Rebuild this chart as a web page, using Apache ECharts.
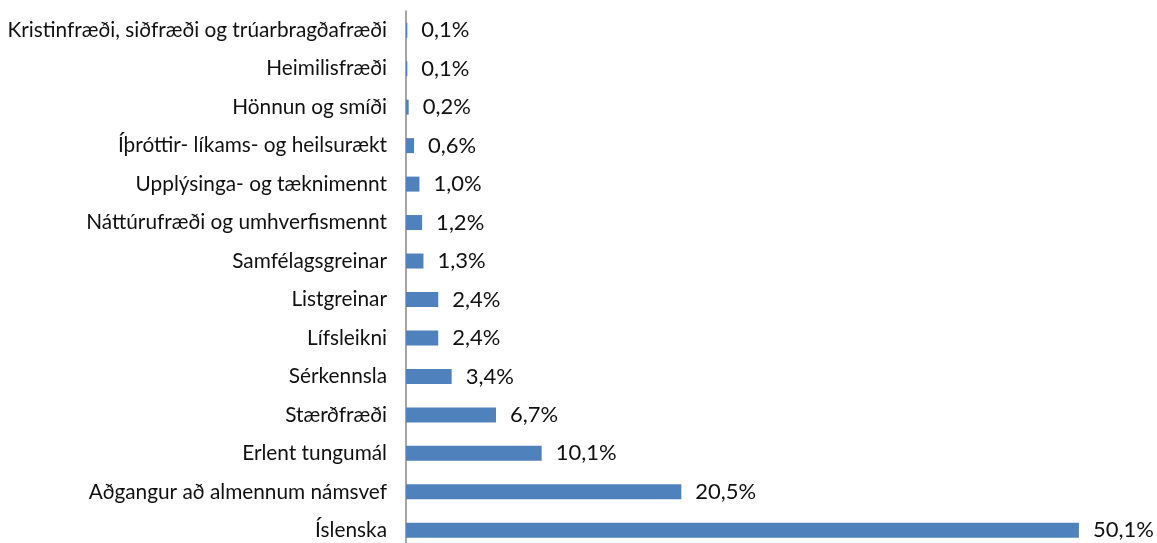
<!DOCTYPE html>
<html>
<head>
<meta charset="utf-8">
<script src="https://cdn.jsdelivr.net/npm/echarts@6/dist/echarts.min.js"></script>
<style>
html,body{margin:0;padding:0;background:#fff;}
#chart{width:1157px;height:543px;}
</style>
</head>
<body>
<div id="chart"></div>
<script>
const categories = [
  "Kristinfræði, siðfræði og trúarbragðafræði",
  "Heimilisfræði",
  "Hönnun og smíði",
  "Íþróttir- líkams- og heilsurækt",
  "Upplýsinga- og tæknimennt",
  "Náttúrufræði og umhverfismennt",
  "Samfélagsgreinar",
  "Listgreinar",
  "Lífsleikni",
  "Sérkennsla",
  "Stærðfræði",
  "Erlent tungumál",
  "Aðgangur að almennum námsvef",
  "Íslenska"
];
const values = [0.1, 0.1, 0.2, 0.6, 1.0, 1.2, 1.3, 2.4, 2.4, 3.4, 6.7, 10.1, 20.5, 50.1];

const chart = echarts.init(document.getElementById('chart'));
const FONT = 'Lato';
chart.setOption({
  animation: false,
  grid: { left: 406, width: 738.7, top: 11, height: 538.5, containLabel: false, outerBoundsMode: 'none' },
  xAxis: {
    type: 'value', min: 0, max: 55,
    show: false
  },
  yAxis: {
    type: 'category', data: categories, inverse: true,
    axisLine: { show: true, lineStyle: { color: '#878787', width: 1.5 } },
    axisTick: { show: false },
    axisLabel: { margin: 19, color: '#111', fontFamily: FONT, fontSize: 20.8 }
  },
  series: [{
    type: 'bar',
    data: values,
    barWidth: 15,
    itemStyle: { color: '#4F81BD' },
    label: {
      show: true, position: 'right', distance: 14,
      color: '#111', fontFamily: FONT, fontSize: 22,
      formatter: p => p.value.toFixed(1).replace('.', ',') + '%'
    }
  }]
});
</script>
</body>
</html>
